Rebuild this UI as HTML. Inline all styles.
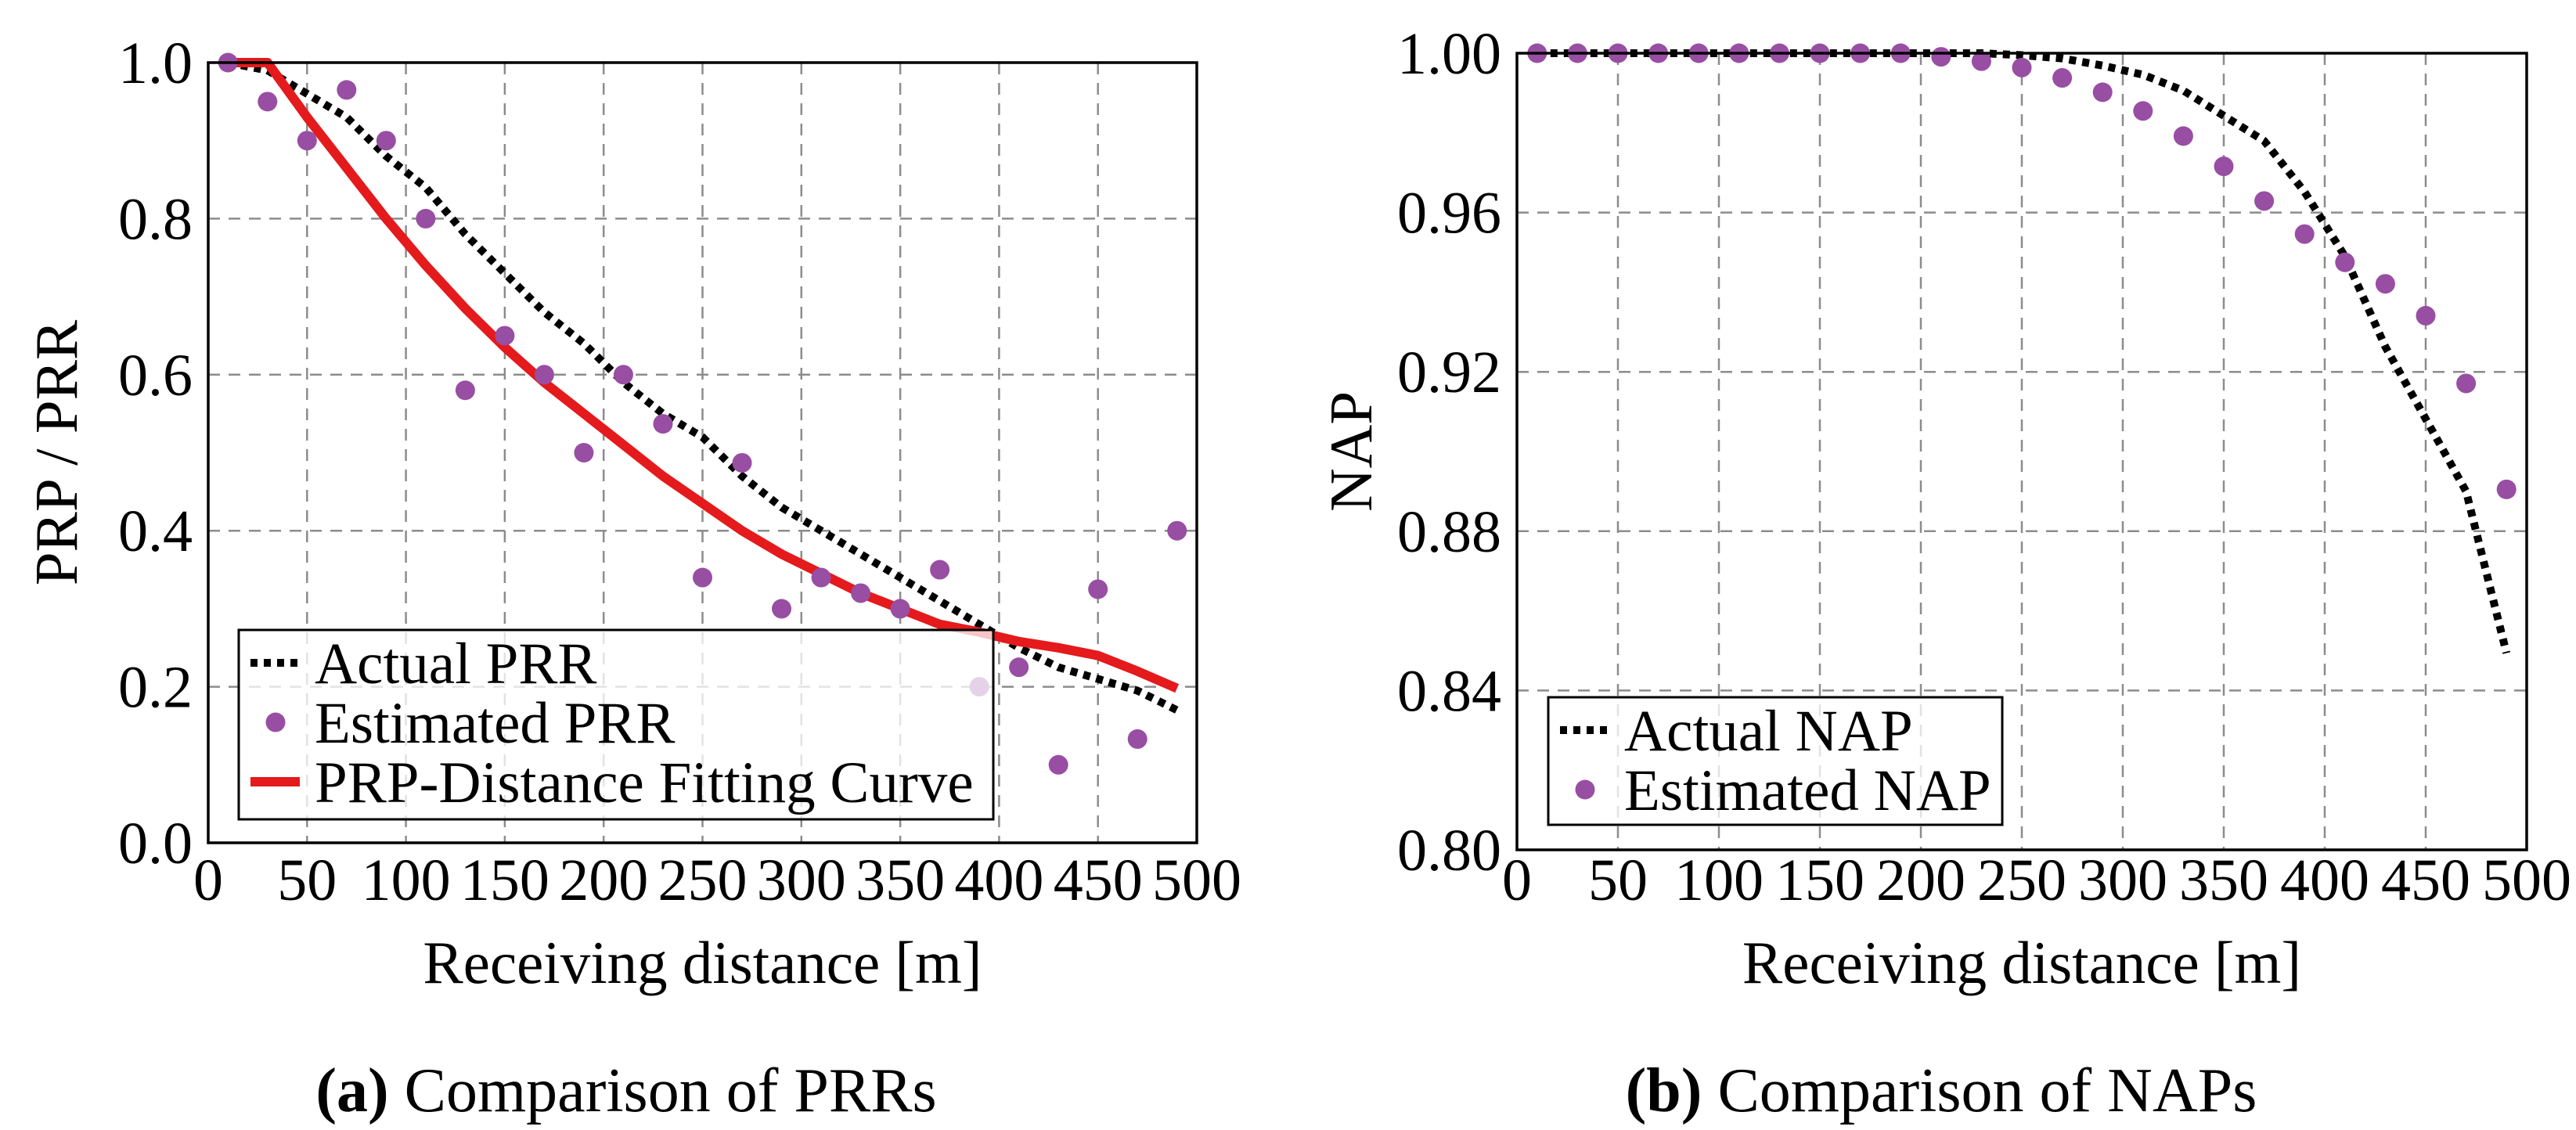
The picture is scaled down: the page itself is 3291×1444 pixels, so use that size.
<!DOCTYPE html>
<html><head><meta charset="utf-8"><style>
html,body{margin:0;padding:0;background:#fff;}
svg{display:block;font-family:"Liberation Serif",serif;}
</style></head><body>
<svg id="fig" width="3291" height="1444" viewBox="0 0 3291 1444" xmlns="http://www.w3.org/2000/svg"></svg>
<script>
const xCats = [10,30,50,70,90,110,130,150,170,190,210,230,250,270,290,310,330,350,370,390,410,430,450,470,490];
const prrActual = [1.0,0.99,0.96,0.93,0.88,0.84,0.78,0.73,0.68,0.64,0.59,0.55,0.52,0.47,0.43,0.40,0.37,0.34,0.31,0.28,0.25,0.225,0.21,0.195,0.17];
const prrEstimated = [1.0,0.95,0.90,0.965,0.90,0.80,0.58,0.65,0.60,0.50,0.60,0.537,0.34,0.487,0.30,0.34,0.32,0.30,0.35,0.20,0.225,0.10,0.325,0.133,0.40];
const prrFit = [1.0,1.0,0.93,0.865,0.80,0.74,0.685,0.635,0.59,0.55,0.51,0.47,0.435,0.40,0.37,0.345,0.32,0.30,0.28,0.27,0.258,0.25,0.24,0.22,0.198];
const napActual = [1,1,1,1,1,1,1,1,1,1,1,1,0.9995,0.9987,0.9969,0.9946,0.9906,0.9843,0.978,0.9652,0.949,0.9263,0.9082,0.89,0.8494];
const napEstimated = [1,1,1,1,1,1,1,1,1,1,0.9991,0.998,0.9964,0.9938,0.9902,0.9855,0.9792,0.9716,0.9629,0.9546,0.9475,0.9421,0.9341,0.9171,0.8905];
const xTicks = [0,50,100,150,200,250,300,350,400,450,500];
const yTicksA = [0,0.2,0.4,0.6,0.8,1.0];
const yTickLabelsA = ["0.0","0.2","0.4","0.6","0.8","1.0"];
const yTicksB = [0.80,0.84,0.88,0.92,0.96,1.00];
const yTickLabelsB = ["0.80","0.84","0.88","0.92","0.96","1.00"];

const NS="http://www.w3.org/2000/svg";
const svg=document.getElementById('fig');
function mk(tag,attrs,parent){const e=document.createElementNS(NS,tag);for(const k in attrs)e.setAttribute(k,attrs[k]);(parent||svg).appendChild(e);return e;}

function panel(cfg){
  const g=mk('g',{});
  
  
  const sx=v=>cfg.x0+(v-0)/500*(cfg.x1-cfg.x0);
  const sy=v=>cfg.y1-(v-cfg.ymin)/(cfg.ymax-cfg.ymin)*(cfg.y1-cfg.y0);
  xTicks.forEach(t=>{const l=mk('line',{x1:sx(t),x2:sx(t),y1:cfg.y0,y2:cfg.y1,stroke:'#8c8c8c','stroke-width':2.5,'stroke-dasharray':'15 11'},g);
    });
  cfg.yTicks.forEach(t=>{const l=mk('line',{x1:cfg.x0,x2:cfg.x1,y1:sy(t),y2:sy(t),stroke:'#8c8c8c','stroke-width':2.5,'stroke-dasharray':'15 11'},g);
    });
  xTicks.forEach(t=>{const tx=mk('text',{x:sx(t),y:1150,'font-size':76,'text-anchor':'middle'},g);tx.textContent=t;
    });
  cfg.yTicks.forEach((t,i)=>{const tx=mk('text',{x:cfg.x0-20,y:sy(t)+26,'font-size':76,'text-anchor':'end'},g);tx.textContent=cfg.yLabels[i];
    });
  const xt=mk('text',{x:(cfg.x0+cfg.x1)/2,y:1256,'font-size':77,'text-anchor':'middle'},g);xt.textContent='Receiving distance [m]';
  
  const yt=mk('text',{x:0,y:0,'font-size':77,'text-anchor':'middle',transform:`translate(${cfg.ytx},${(cfg.y0+cfg.y1)/2}) rotate(-90)`},g);yt.textContent=cfg.ytitle;
  
  const cap=mk('text',{x:cfg.capx,y:1420,'font-size':80,'text-anchor':'middle'},g);
  
  const b=mk('tspan',{'font-weight':'bold'},cap);b.textContent=cfg.capB;
  const r=mk('tspan',{},cap);r.textContent=' '+cfg.capT;
  cfg.series.forEach(s=>{
    if(s.type==='line'){
      const d=xCats.map((x,i)=>(i?'L':'M')+sx(x).toFixed(1)+' '+sy(s.data[i]).toFixed(1)).join(' ');
      const p=mk('path',{d:d,fill:'none',stroke:s.color,'stroke-width':s.w,'stroke-dasharray':s.dash||'none','stroke-linejoin':'round'},g);
      
    } else {
      xCats.forEach((x,i)=>{const c=mk('circle',{cx:sx(x),cy:sy(s.data[i]),r:12.5,fill:'#984ea3'},g);
        });
    }
  });
  const ab=mk('rect',{x:cfg.x0,y:cfg.y0,width:cfg.x1-cfg.x0,height:cfg.y1-cfg.y0,fill:'none',stroke:'#000','stroke-width':3.5},g);
  
  const L=cfg.legend;
  const lg=mk('g',{},g);
  
  mk('rect',{x:L.x,y:L.y,width:L.w,height:L.h,fill:'#fff','fill-opacity':0.75,stroke:'#000','stroke-width':3},lg);
  L.items.forEach((it,i)=>{
    const cy=L.y+42+i*76;
    const e=mk('g',{},lg);
    
    if(it.type==='line') mk('line',{x1:L.x+15,x2:L.x+78,y1:cy,y2:cy,stroke:it.color,'stroke-width':it.w,'stroke-dasharray':it.dash||'none'},e);
    else mk('circle',{cx:L.x+47,cy:cy,r:12.5,fill:'#984ea3'},e);
    const t=mk('text',{x:L.x+97,y:cy+26,'font-size':75},e);t.textContent=it.label;
  });
}

panel({name:'prr-chart',x0:266,x1:1529,y0:80,y1:1077,ymin:0,ymax:1,yTicks:yTicksA,yLabels:yTickLabelsA,
  ytitle:'PRP / PRR',ytx:98,capx:800,capB:'(a)',capT:'Comparison of PRRs',
  series:[{type:'line',name:'actual-prr-line',data:prrActual,color:'#000',w:10,dash:'9 8'},
          {type:'line',name:'fitting-curve-line',data:prrFit,color:'#e41a1c',w:12},
          {type:'dot',name:'estimated-prr',data:prrEstimated}],
  legend:{x:305,y:805,w:964,h:242,items:[
    {type:'line',label:'Actual PRR',color:'#000',w:10,dash:'9 8'},
    {type:'dot',label:'Estimated PRR'},
    {type:'line',label:'PRP-Distance Fitting Curve',color:'#e41a1c',w:12}]}});

panel({name:'nap-chart',x0:1938,x1:3228,y0:68,y1:1086,ymin:0.8,ymax:1.0,yTicks:yTicksB,yLabels:yTickLabelsB,
  ytitle:'NAP',ytx:1752,capx:2480,capB:'(b)',capT:'Comparison of NAPs',
  series:[{type:'line',name:'actual-nap-line',data:napActual,color:'#000',w:10,dash:'9 8'},
          {type:'dot',name:'estimated-nap',data:napEstimated}],
  legend:{x:1978,y:891,w:580,h:163,items:[
    {type:'line',label:'Actual NAP',color:'#000',w:10,dash:'9 8'},
    {type:'dot',label:'Estimated NAP'}]}});
</script>
</body></html>
